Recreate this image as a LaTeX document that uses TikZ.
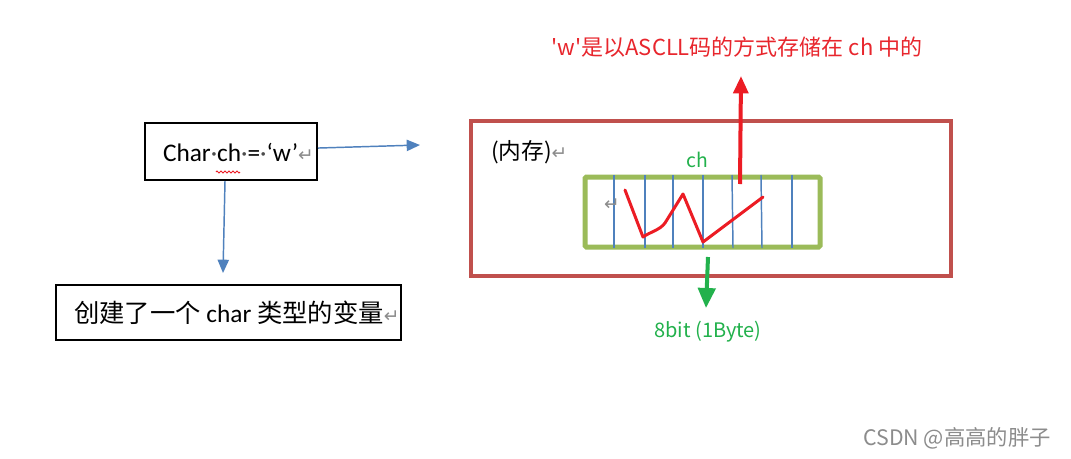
\documentclass[tikz,border=0pt]{standalone}
\usepackage{fontspec}
\setmainfont{Carlito}
\newfontfamily\cjk{Noto Sans CJK SC}
\newfontfamily\sym{DejaVu Sans}
\usetikzlibrary{arrows.meta,decorations.pathmorphing}
\definecolor{oblue}{HTML}{4F81BD}
\definecolor{ored}{HTML}{C0504D}
\definecolor{ogreen}{HTML}{9BBB59}
\definecolor{pred}{HTML}{EC1C24}
\definecolor{pgreen}{HTML}{22B14C}
\definecolor{tred}{HTML}{E8262D}
\definecolor{retgrey}{HTML}{8C8C8C}
\newcommand{\ret}{{\sym\color{retgrey}\fontsize{14pt}{14pt}\selectfont ↵}}
\newcommand{\fdot}{{\color{black!70}·}}
\tikzset{
  txt/.style={inner sep=0pt, outer sep=0pt},
  blackbox/.style={draw=black, line width=1.5pt, inner sep=0pt},
  barrow/.style={draw=oblue, line width=1.1pt, -{Triangle[length=10pt,width=8.5pt]}},
  bline/.style={draw=oblue, line width=1.1pt},
}
\begin{document}
\begin{tikzpicture}[x=0.75pt,y=-0.75pt]
\useasboundingbox[fill=white] (0,0) rectangle (1071,458);

% left boxes
\node[blackbox, minimum width=129pt, minimum height=42.75pt] (box1) at (231,151.5) {};
\node[txt, anchor=west, font=\fontsize{19pt}{19pt}\selectfont] (t1) at (163,152) {Char\fdot ch\fdot=\fdot‘w’\ret};
\draw[pred, line width=0.6pt, decorate, decoration={zigzag, segment length=3pt, amplitude=0.8pt}] (216,172) -- (240,172);

\node[blackbox, minimum width=258.75pt, minimum height=41.25pt] (box2) at (228.5,312.5) {};
\node[txt, anchor=west, font=\fontsize{19pt}{19pt}\selectfont] (t2) at (74,313) {{\cjk 创建了一个} char {\cjk 类型的变量}\ret};

\coordinate (rt) at (420,145);
\coordinate (dn) at (223,273);
\draw[barrow] ([yshift=2.6pt]box1.east) -- (rt);
\draw[barrow] ([xshift=-4.5pt]box1.south) -- (dn);

% memory box
\node[draw=ored, line width=3pt, minimum width=360pt, minimum height=116.25pt, inner sep=0pt] (mem) at (711,198.5) {};
\node[txt, anchor=west, font=\cjk\fontsize{17pt}{17pt}\selectfont] (memt) at (491,152) {(内存)\ret};

\node[txt, text=pgreen, font=\cjk\fontsize{14.5pt}{14.5pt}\selectfont] (cht) at (697,160) {ch};

\node[draw=ogreen, line width=3.75pt, rounded corners=1pt, minimum width=176.25pt, minimum height=52.5pt, inner sep=0pt] (chbox) at (702.5,212) {};

\foreach \xa/\xb [count=\i] in {614/614, 645/645, 673/673, 703/703, 732/733, 761/762, 792/792} {
  \draw[bline] (\xa,175) -- (\xb,248);
}
\node[txt] (ret2) at (612,205) {\ret};

% red scribble
\draw[pred, line width=2.25pt, line join=round, line cap=round]
  (625,190) -- (643,237) .. controls (650,232) and (660,230) .. (665,223) -- (683,194) -- (703,242) -- (763,197);

% red arrow and text
\coordinate (rtop) at (741,76);
\draw[pred, line width=3pt, -{Triangle[length=13pt,width=11pt]}] (740,184) -- (rtop);
\node[txt, text=tred, font=\cjk\fontsize{16.5pt}{16.5pt}\selectfont] (redt) at (737,47) {'w'是以ASCLL码的方式存储在 ch 中的};

% green arrow and text
\coordinate (gbot) at (706,308);
\draw[pgreen, line width=3pt, -{Triangle[length=15pt,width=13pt]}] (708,257) -- (gbot);
\node[txt, text=pgreen, font=\cjk\fontsize{15pt}{15pt}\selectfont] (bitt) at (708,332) {8bit (1Byte)};

% watermark
\node[txt, text=black!45, font=\cjk\fontsize{16pt}{16pt}\selectfont] (wm) at (957,438) {CSDN @高高的胖子};
\end{tikzpicture}
\end{document}
